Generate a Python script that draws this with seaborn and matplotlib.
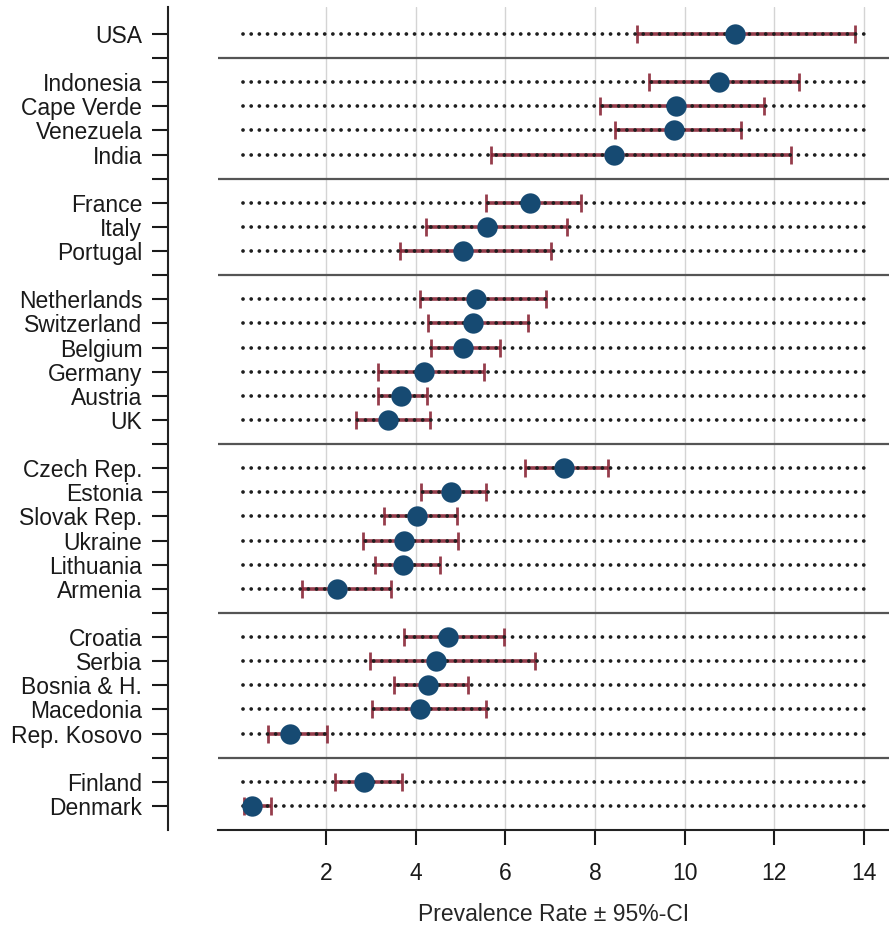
import numpy as np
import pandas as pd
import matplotlib
matplotlib.use("Agg")
import matplotlib.pyplot as plt
import seaborn as sns

countries = ["USA",
             "Indonesia", "Cape Verde", "Venezuela", "India",
             "France", "Italy", "Portugal",
             "Netherlands", "Switzerland", "Belgium", "Germany", "Austria", "UK",
             "Czech Rep.", "Estonia", "Slovak Rep.", "Ukraine", "Lithuania", "Armenia",
             "Croatia", "Serbia", "Bosnia & H.", "Macedonia", "Rep. Kosovo",
             "Finland", "Denmark"]
group_sizes = [1, 4, 3, 6, 6, 5, 2]
rate = [11.12,
        10.77, 9.81, 9.76, 8.43,
        6.56, 5.60, 5.05,
        5.34, 5.28, 5.06, 4.18, 3.67, 3.38,
        7.32, 4.79, 4.03, 3.75, 3.72, 2.25,
        4.73, 4.46, 4.27, 4.10, 1.19,
        2.85, 0.35]
ci_low = [8.93,
          9.21, 8.11, 8.45, 5.67,
          5.58, 4.22, 3.64,
          4.10, 4.27, 4.34, 3.16, 3.15, 2.67,
          6.44, 4.11, 3.29, 2.83, 3.09, 1.47,
          3.73, 2.99, 3.51, 3.03, 0.71,
          2.19, 0.16]
ci_high = [13.80,
           12.56, 11.77, 11.25, 12.38,
           7.69, 7.38, 7.01,
           6.90, 6.50, 5.88, 5.53, 4.25, 4.31,
           8.30, 5.58, 4.92, 4.94, 4.54, 3.44,
           5.98, 6.66, 5.16, 5.58, 2.02,
           3.70, 0.78]
xticks = [2, 4, 6, 8, 10, 12, 14]
xlabel = "Prevalence Rate ± 95%-CI"

# row positions with a blank separator row between groups
pos, seps = [], []
p = 0
for gi, n in enumerate(group_sizes):
    for _ in range(n):
        pos.append(p)
        p += 1
    if gi < len(group_sizes) - 1:
        seps.append(p)
        p += 1
n_rows = p
tick_labels = [""] * n_rows
for c, yp in zip(countries, pos):
    tick_labels[yp] = c

df = pd.DataFrame({"country": countries, "rate": rate, "lo": ci_low,
                   "hi": ci_high, "pos": pos})

sns.set_theme(style="ticks")
plt.rcParams['font.family'] = ['Liberation Sans', 'DejaVu Sans']
plt.rcParams['text.color'] = '#1a1a1a'
plt.rcParams['xtick.color'] = '#1a1a1a'
plt.rcParams['ytick.color'] = '#1a1a1a'

fig = plt.figure(figsize=(8.89, 9.25), dpi=100)
ax = fig.add_axes([218 / 889, 1 - 830 / 925, 1 - 218 / 889, (830 - 7) / 925])

ax.grid(axis='x', color='#d4d4d4', lw=1.0)
ax.grid(axis='y', visible=False)
ax.set_axisbelow(True)

for s in seps:
    ax.axhline(s, color='#555555', lw=1.6, zorder=1)

dots = ax.hlines(df["pos"], 0.14, 14.02, colors='#1e1e1e',
                 linestyles=(0, (0.01, 2.168)), lw=2.7, zorder=3)
dots.set_capstyle('round')

ax.errorbar(df["rate"], df["pos"],
            xerr=[df["rate"] - df["lo"], df["hi"] - df["rate"]],
            fmt='none', ecolor='#872233', elinewidth=2.6, capsize=6.5,
            capthick=2.0, alpha=0.88, zorder=2)

sns.scatterplot(data=df, x="rate", y="pos", s=215, color='#164a72',
                linewidth=0, ax=ax, zorder=4, legend=False)

ax.set_xlim(-0.41, 14.56)
ax.set_ylim(33.0, -1.12)
ax.set_xticks(xticks)
ax.set_xticklabels([str(t) for t in xticks])
ax.set_yticks(range(n_rows))
ax.set_yticklabels(tick_labels)
ax.set_ylabel("")
ax.set_xlabel(xlabel, fontsize=16.5, labelpad=13)

for side in ["top", "right"]:
    ax.spines[side].set_visible(False)
ax.spines["left"].set_position(("outward", 36))
for side in ["left", "bottom"]:
    ax.spines[side].set_linewidth(1.5)
    ax.spines[side].set_color('#222222')

ax.tick_params(axis='y', length=11.5, width=1.5, pad=7, labelsize=16.5)
ax.tick_params(axis='x', length=11, width=1.5, pad=12, labelsize=16.5)

fig.savefig("out.png", dpi=100)
